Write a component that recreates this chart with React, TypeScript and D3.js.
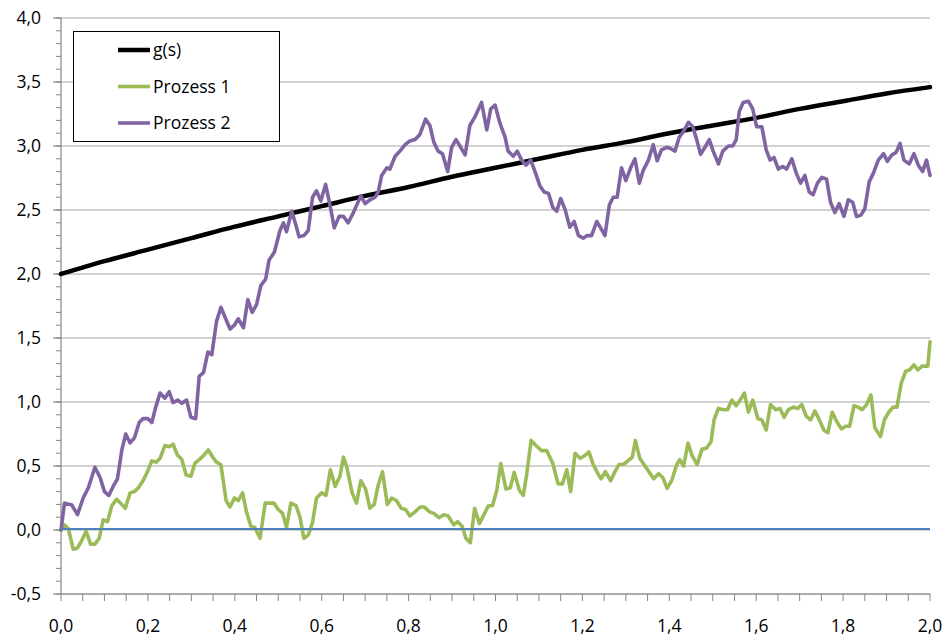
import React from "react";
import * as d3 from "d3";

// ---- data ----
const gS = [0, 0.1, 0.2, 0.3, 0.4, 0.5, 0.6, 0.7, 0.8, 0.9, 1.0, 1.1, 1.2, 1.3, 1.4, 1.5, 1.6, 1.7, 1.8, 1.9, 2.0];
const gV = [2.0, 2.1, 2.19, 2.28, 2.37, 2.45, 2.53, 2.61, 2.68, 2.76, 2.83, 2.9, 2.97, 3.03, 3.1, 3.16, 3.22, 3.29, 3.35, 3.41, 3.46];

const p1S = [0, 0.008, 0.017, 0.028, 0.038, 0.048, 0.058, 0.068, 0.078, 0.088, 0.097, 0.107, 0.117, 0.128, 0.137, 0.148, 0.159, 0.169, 0.178, 0.188, 0.199, 0.209, 0.219, 0.228, 0.239, 0.249, 0.258, 0.268, 0.278, 0.288, 0.299, 0.308, 0.318, 0.329, 0.339, 0.349, 0.358, 0.368, 0.38, 0.389, 0.399, 0.408, 0.418, 0.427, 0.437, 0.446, 0.458, 0.47, 0.481, 0.49, 0.5, 0.51, 0.519, 0.529, 0.541, 0.55, 0.559, 0.569, 0.579, 0.588,
  0.6, 0.61, 0.62, 0.631, 0.642, 0.65, 0.658, 0.67, 0.68, 0.69, 0.701, 0.711, 0.721, 0.73, 0.74, 0.751, 0.761, 0.772, 0.783, 0.793, 0.803, 0.814, 0.827, 0.836, 0.849, 0.858, 0.87, 0.881, 0.891, 0.904, 0.913, 0.923, 0.932, 0.942, 0.952, 0.963, 0.974, 0.984, 0.993,
  1.003, 1.012, 1.024, 1.034, 1.043, 1.055, 1.064, 1.072, 1.082, 1.093, 1.106, 1.118, 1.132, 1.144, 1.154, 1.164, 1.173, 1.183, 1.195, 1.205, 1.215, 1.224, 1.234, 1.243, 1.253, 1.265, 1.274, 1.284, 1.296, 1.308, 1.315, 1.322, 1.332, 1.344, 1.353, 1.364, 1.375, 1.385, 1.395, 1.406, 1.417, 1.424, 1.433, 1.443, 1.452, 1.464, 1.475, 1.486, 1.496,
  1.503, 1.513, 1.525, 1.534, 1.544, 1.554, 1.563, 1.573, 1.582, 1.592, 1.604, 1.613, 1.623, 1.633, 1.645, 1.655, 1.664, 1.674, 1.686, 1.696, 1.705, 1.715, 1.725, 1.735, 1.744, 1.756, 1.765, 1.775, 1.785, 1.796, 1.806, 1.815, 1.825, 1.835, 1.844, 1.854, 1.864, 1.873, 1.886, 1.895, 1.905, 1.915, 1.924, 1.934, 1.944, 1.953, 1.963, 1.972, 1.982, 1.995, 2.0];
const p1V = [0, 0.04, 0.01, -0.15, -0.14, -0.08, -0.01, -0.11, -0.11, -0.065, 0.08, 0.065, 0.19, 0.24, 0.21, 0.17, 0.29, 0.3, 0.33, 0.38, 0.455, 0.54, 0.53, 0.56, 0.66, 0.65, 0.67, 0.585, 0.55, 0.43, 0.42, 0.52, 0.55, 0.585, 0.625, 0.57, 0.53, 0.51, 0.23, 0.18, 0.25, 0.23, 0.29, 0.14, 0.03, 0.02, -0.065, 0.21, 0.21, 0.21, 0.16, 0.13, 0.02, 0.21, 0.19, 0.1, -0.065, -0.04, 0.06, 0.25,
  0.29, 0.27, 0.47, 0.34, 0.42, 0.57, 0.49, 0.29, 0.21, 0.385, 0.32, 0.17, 0.2, 0.35, 0.455, 0.2, 0.25, 0.23, 0.17, 0.16, 0.11, 0.14, 0.18, 0.18, 0.14, 0.13, 0.096, 0.12, 0.11, 0.04, 0.065, 0.03, -0.065, -0.1, 0.17, 0.05, 0.125, 0.19, 0.19,
  0.31, 0.52, 0.32, 0.33, 0.45, 0.31, 0.27, 0.44, 0.7, 0.66, 0.62, 0.62, 0.52, 0.36, 0.36, 0.47, 0.3, 0.6, 0.56, 0.58, 0.61, 0.52, 0.45, 0.4, 0.455, 0.385, 0.45, 0.51, 0.515, 0.55, 0.57, 0.7, 0.56, 0.5, 0.455, 0.4, 0.44, 0.41, 0.325, 0.39, 0.51, 0.55, 0.5, 0.68, 0.585, 0.51, 0.63, 0.64, 0.69,
  0.86, 0.95, 0.94, 0.94, 1.015, 0.97, 1.015, 1.07, 0.92, 1.015, 0.87, 0.86, 0.78, 0.98, 0.94, 0.95, 0.88, 0.94, 0.96, 0.95, 0.98, 0.89, 0.86, 0.93, 0.87, 0.78, 0.76, 0.92, 0.85, 0.79, 0.81, 0.81, 0.97, 0.96, 0.94, 0.98, 1.055, 0.8, 0.73, 0.86, 0.92, 0.96, 0.96, 1.15, 1.24, 1.25, 1.29, 1.25, 1.28, 1.28, 1.47];

const p2S = [0, 0.008, 0.025, 0.038, 0.051, 0.063, 0.078, 0.09, 0.1, 0.11, 0.12, 0.13, 0.14, 0.149, 0.159, 0.169, 0.18, 0.189, 0.2, 0.209, 0.218, 0.228, 0.239, 0.249, 0.258, 0.269, 0.278, 0.289, 0.299, 0.31, 0.318, 0.328, 0.338, 0.347, 0.358, 0.368, 0.379, 0.389, 0.399, 0.408, 0.42, 0.43, 0.44, 0.45, 0.46, 0.471, 0.479, 0.491,
  0.504, 0.512, 0.519, 0.531, 0.539, 0.548, 0.559, 0.569, 0.579, 0.588, 0.598, 0.609, 0.619, 0.629, 0.64, 0.65, 0.661, 0.673, 0.69, 0.7, 0.711, 0.723, 0.73, 0.738, 0.75, 0.757, 0.769, 0.78, 0.792, 0.803, 0.815, 0.826, 0.839, 0.849, 0.858, 0.868, 0.878, 0.89, 0.899, 0.909, 0.92, 0.93, 0.941, 0.953, 0.968, 0.98, 0.989, 0.999, 1.01,
  1.022, 1.029, 1.041, 1.05, 1.06, 1.07, 1.081, 1.091, 1.102, 1.112, 1.122, 1.132, 1.141, 1.15, 1.16, 1.171, 1.181, 1.191, 1.202, 1.211, 1.221, 1.233, 1.242, 1.252, 1.262, 1.271, 1.28, 1.29, 1.3, 1.311, 1.321, 1.331, 1.34, 1.352, 1.363, 1.372, 1.382, 1.394, 1.403, 1.413, 1.423, 1.432, 1.444, 1.454, 1.463, 1.472, 1.482, 1.492, 1.501, 1.513, 1.523,
  1.536, 1.546, 1.554, 1.561, 1.57, 1.582, 1.592, 1.601, 1.613, 1.623, 1.632, 1.641, 1.651, 1.661, 1.67, 1.682, 1.692, 1.702, 1.712, 1.722, 1.731, 1.741, 1.751, 1.762, 1.771, 1.781, 1.791, 1.802, 1.812, 1.822, 1.831, 1.841, 1.85, 1.86, 1.87, 1.881, 1.893, 1.902, 1.912, 1.922, 1.931, 1.94, 1.952, 1.963, 1.973, 1.983, 1.992, 2.0];
const p2V = [0, 0.21, 0.195, 0.12, 0.25, 0.33, 0.49, 0.41, 0.3, 0.27, 0.34, 0.4, 0.625, 0.75, 0.68, 0.72, 0.84, 0.87, 0.87, 0.84, 0.96, 1.07, 1.03, 1.08, 0.995, 1.015, 0.99, 1.015, 0.88, 0.87, 1.2, 1.23, 1.39, 1.37, 1.63, 1.74, 1.65, 1.57, 1.6, 1.65, 1.58, 1.8, 1.7, 1.76, 1.91, 1.96, 2.11, 2.17,
  2.34, 2.4, 2.33, 2.49, 2.4, 2.29, 2.3, 2.34, 2.6, 2.65, 2.57, 2.7, 2.54, 2.36, 2.45, 2.45, 2.4, 2.48, 2.61, 2.55, 2.58, 2.6, 2.64, 2.77, 2.83, 2.82, 2.92, 2.96, 3.01, 3.04, 3.05, 3.09, 3.21, 3.16, 3.03, 2.96, 2.94, 2.8, 2.99, 3.05, 2.99, 2.93, 3.16, 3.23, 3.34, 3.125, 3.29, 3.32, 3.18,
  3.07, 2.96, 2.92, 2.96, 2.89, 2.85, 2.89, 2.8, 2.69, 2.64, 2.63, 2.52, 2.49, 2.59, 2.505, 2.365, 2.41, 2.3, 2.28, 2.3, 2.3, 2.41, 2.36, 2.3, 2.54, 2.6, 2.6, 2.83, 2.73, 2.83, 2.9, 2.71, 2.81, 2.89, 3.01, 2.885, 2.97, 2.99, 2.98, 2.96, 3.07, 3.11, 3.185, 3.15, 3.05, 2.935, 2.99, 3.05, 2.96, 2.86, 2.96,
  3.0, 3.0, 3.05, 3.27, 3.34, 3.35, 3.29, 3.15, 3.15, 2.97, 2.89, 2.91, 2.82, 2.84, 2.82, 2.9, 2.79, 2.71, 2.77, 2.64, 2.62, 2.71, 2.755, 2.74, 2.56, 2.48, 2.55, 2.45, 2.58, 2.56, 2.45, 2.46, 2.51, 2.72, 2.79, 2.89, 2.94, 2.88, 2.93, 2.95, 3.02, 2.89, 2.86, 2.94, 2.85, 2.8, 2.89, 2.77];

const zeroS = [0, 2.0];
const zeroV = [0.008, 0.008];

const yTicks = [-0.5, 0, 0.5, 1, 1.5, 2, 2.5, 3, 3.5, 4];
const xTicks = [0, 0.2, 0.4, 0.6, 0.8, 1.0, 1.2, 1.4, 1.6, 1.8, 2.0];
const legendNames = ["g(s)", "Prozess 1", "Prozess 2"];

const W = 946, H = 642;
const M = { left: 61, right: 930, top: 18, bottom: 594 };
const FONT = "'Open Sans', 'DejaVu Sans', sans-serif";

export default function App() {
  const x = d3.scaleLinear().domain([0, 2]).range([M.left, M.right]);
  const y = d3.scaleLinear().domain([-0.5, 4]).range([M.bottom, M.top]);
  const line = d3
    .line<[number, number]>()
    .x((d) => x(d[0]))
    .y((d) => y(d[1]));
  const smooth = d3
    .line<[number, number]>()
    .x((d) => x(d[0]))
    .y((d) => y(d[1]))
    .curve(d3.curveMonotoneX);
  const zip = (a: number[], b: number[]) => a.map((v, i) => [v, b[i]] as [number, number]);

  const yMinor = d3.range(-0.5, 4.0001, 0.1);
  const xMinor = d3.range(0, 2.0001, 0.05);
  const fmt = (v: number) => v.toFixed(1).replace(".", ",");

  const series = [
    { name: legendNames[0], d: zip(gS, gV), color: "#000000", w: 4.5, gen: smooth },
    { name: legendNames[1], d: zip(p1S, p1V), color: "#9bbb59", w: 3.6, gen: line },
    { name: legendNames[2], d: zip(p2S, p2V), color: "#8064a2", w: 3.6, gen: line },
  ];

  return (
    <>
      <style>{`body{margin:0}`}</style>
      <svg width={W} height={H} style={{ display: "block", background: "#fff" }} fontFamily={FONT}>
        {/* gridlines */}
        {yTicks.map((t) => (
          <line key={"g" + t} x1={M.left} x2={M.right} y1={y(t)} y2={y(t)} stroke="#a6a6a6" strokeWidth={1.2} />
        ))}
        {/* y axis */}
        <line x1={M.left} x2={M.left} y1={M.top} y2={M.bottom} stroke="#868686" strokeWidth={1.2} />
        {yMinor.map((t, i) => (
          <line key={"ym" + i} x1={M.left - 5} x2={M.left} y1={y(t)} y2={y(t)} stroke="#868686" strokeWidth={1} />
        ))}
        {yTicks.map((t) => (
          <line key={"yM" + t} x1={M.left - 8} x2={M.left} y1={y(t)} y2={y(t)} stroke="#868686" strokeWidth={1.2} />
        ))}
        {yTicks.map((t) => (
          <text key={"yl" + t} x={41} y={y(t)} dy="0.35em" textAnchor="end" fontSize={17.5} fill="#000">
            {fmt(t)}
          </text>
        ))}
        {/* x axis */}
        <line x1={M.left} x2={M.right} y1={M.bottom} y2={M.bottom} stroke="#868686" strokeWidth={1.2} />
        {xMinor.map((t, i) => (
          <line key={"xm" + i} x1={x(t)} x2={x(t)} y1={M.bottom} y2={M.bottom + 7} stroke="#868686" strokeWidth={1} />
        ))}
        {xTicks.map((t) => (
          <text key={"xl" + t} x={x(t)} y={632} textAnchor="middle" fontSize={17.5} fill="#000">
            {fmt(t)}
          </text>
        ))}
        {/* series */}
        {series.map((s) => (
          <path key={s.name} d={s.gen(s.d) || ""} fill="none" stroke={s.color} strokeWidth={s.w} strokeLinejoin="round" strokeLinecap="round" />
        ))}
        <path d={line(zip(zeroS, zeroV)) || ""} fill="none" stroke="#4f81bd" strokeWidth={2} />
        {/* legend */}
        <rect x={73.5} y={31.5} width={206} height={110} fill="#fff" stroke="#000" strokeWidth={1} />
        {series.map((s, i) => (
          <g key={"lg" + i} transform={`translate(0,${50 + i * 36.5})`}>
            <line x1={118} x2={150} y1={0} y2={0} stroke={s.color} strokeWidth={s.w} />
            <text x={153} y={0} dy="0.35em" fontSize={17.5} fill="#000">
              {s.name}
            </text>
          </g>
        ))}
      </svg>
    </>
  );
}
